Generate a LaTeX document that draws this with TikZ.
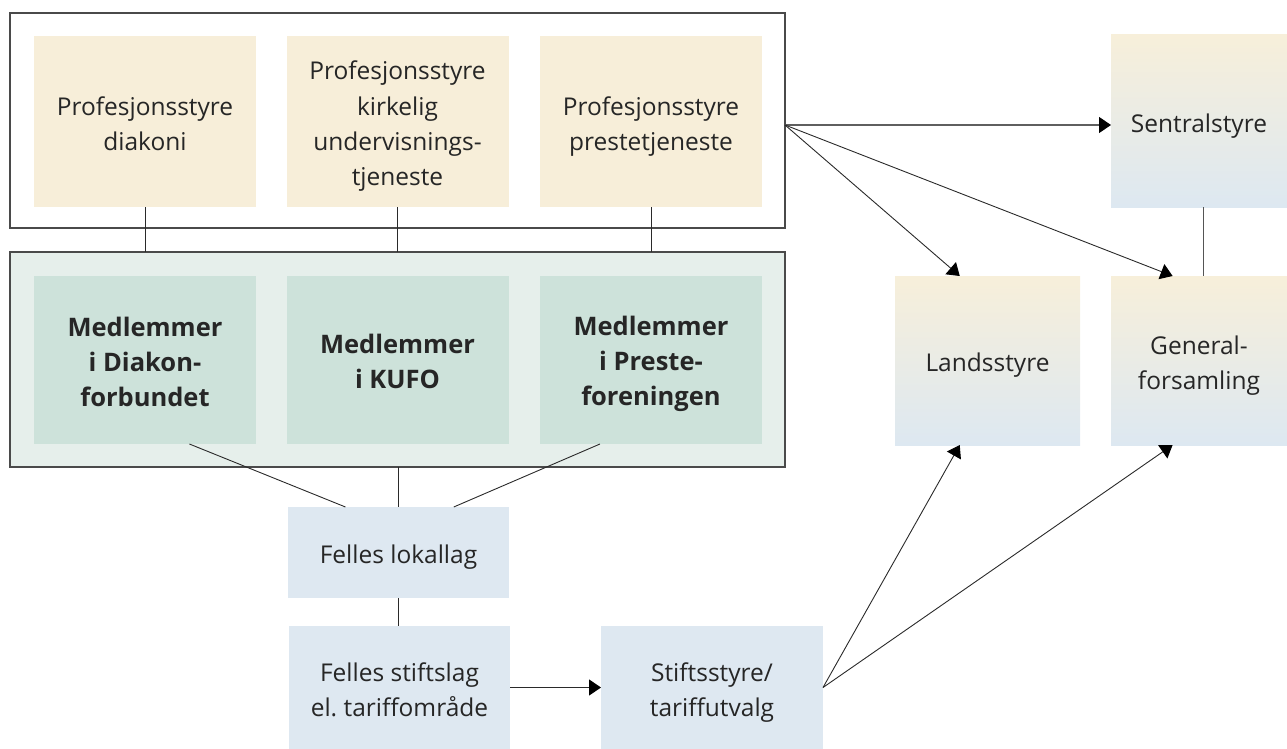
\documentclass[tikz,border=0pt]{standalone}
\usepackage{fontspec}
\setmainfont{Open Sans}
\frenchspacing
\usetikzlibrary{arrows.meta,calc}
\definecolor{ylw}{HTML}{F7EED9}
\definecolor{gout}{HTML}{E6EFEB}
\definecolor{gin}{HTML}{CDE2DA}
\definecolor{blu}{HTML}{DEE8F1}
\definecolor{gtop}{HTML}{F7EFDA}
\definecolor{gbot}{HTML}{DDE8F1}
\definecolor{ln}{HTML}{2A2A2A}
\definecolor{txt}{HTML}{262626}
\newcommand\tstrut{\rule{0pt}{28pt}}
\newcommand\bstrut{\rule[-6pt]{0pt}{6pt}}
\tikzset{
  box/.style={inner sep=0pt,outer sep=0pt,align=center,text=txt,
    font=\fontsize{24.5}{35}\selectfont},
  ybox/.style={box,fill=ylw,minimum width=222pt,minimum height=171pt},
  gbox/.style={box,fill=gin,minimum width=222pt,minimum height=168pt,
    font=\fontsize{25.5}{35}\selectfont\bfseries},
  bbox/.style={box,fill=blu},
  shbox/.style={box,top color=gtop,bottom color=gbot,middle color=gtop!50!gbot},
  frame/.style={draw=ln!85,line width=1.3pt,inner sep=0pt,outer sep=0pt},
  conn/.style={draw=ln,line width=0.9pt},
  arr/.style={conn,-{Triangle[length=12pt,width=16pt,fill=black,color=black]}}
}
\begin{document}
\begin{tikzpicture}[x=1pt,y=-1pt]
\useasboundingbox (0,0) rectangle (1287,749);
% frames
\node[frame,minimum width=775pt,minimum height=215pt] (top) at (397.5,120.5) {};
\node[frame,fill=gout,minimum width=775pt,minimum height=215pt] (mid) at (397.5,359.5) {};
% yellow boxes
\node[ybox] (p1) at (145,121.5) {\tstrut Profesjonsstyre\\diakoni\bstrut};
\node[ybox] (p2) at (397.5,121.5) {\tstrut Profesjonsstyre\\kirkelig\\undervisnings-\\tjeneste\bstrut};
\node[ybox] (p3) at (651,121.5) {\tstrut Profesjonsstyre\\prestetjeneste\bstrut};
% green boxes
\node[gbox] (m1) at (145,360) {\tstrut Medlemmer\\i Diakon-\\forbundet\bstrut};
\node[gbox] (m2) at (397.5,360) {\tstrut Medlemmer\\i KUFO\bstrut};
\node[gbox] (m3) at (651,360) {\tstrut Medlemmer\\i Preste-\\foreningen\bstrut};
% lower boxes
\node[bbox,minimum width=221pt,minimum height=91pt] (lok) at (398.5,552.5) {\tstrut Felles lokallag\bstrut};
\node[bbox,minimum width=221pt,minimum height=123pt] (sl) at (399.5,687.5) {\tstrut Felles stiftslag\\el. tariffområde\bstrut};
\node[bbox,minimum width=222pt,minimum height=123pt] (ss) at (712,687.5) {\tstrut Stiftsstyre/\\tariffutvalg\bstrut};
% right boxes
\node[shbox,minimum width=176pt,minimum height=172pt] (sen) at (1199,121) {\tstrut Sentralstyre\bstrut};
\node[shbox,minimum width=185pt,minimum height=169pt] (lan) at (987.5,360.5) {\tstrut Landsstyre\bstrut};
\node[shbox,minimum width=176pt,minimum height=169pt] (gen) at (1199,360.5) {\tstrut General-\\forsamling\bstrut};
% connectors
\draw[conn] (p1.south) -- (p1.south |- mid.north);
\draw[conn] (p2.south) -- (p2.south |- mid.north);
\draw[conn] (p3.south) -- (p3.south |- mid.north);
\draw[conn] ($(m1.south west)!0.70!(m1.south east)$) -- ($(lok.north west)!0.26!(lok.north east)$);
\draw[conn] ($(m3.south west)!0.27!(m3.south east)$) -- ($(lok.north west)!0.75!(lok.north east)$);
\draw[conn] (lok.north |- mid.south) -- (lok.north);
\draw[conn] (lok.south) -- (lok.south |- sl.north);
\draw[arr,line width=1.2pt] (sl.east) -- (ss.west);
\coordinate (src) at ($(top.east)+(0,4.5)$);
\draw[arr,line width=1.3pt,draw=ln!75] (src) -- (src -| sen.west);
\draw[arr] (src) -- ($(lan.north west)!0.35!(lan.north east)$);
\draw[arr] (src) -- ($(gen.north west)!0.35!(gen.north east)$);
\draw[conn,draw=ln!80] ($(sen.south)+(4,0)$) -- ($(gen.north)+(4,0)$);
\draw[arr] (ss.east) -- ($(lan.south west)!0.35!(lan.south east)$);
\draw[arr] (ss.east) -- ($(gen.south west)!0.35!(gen.south east)$);
\end{tikzpicture}
\end{document}
